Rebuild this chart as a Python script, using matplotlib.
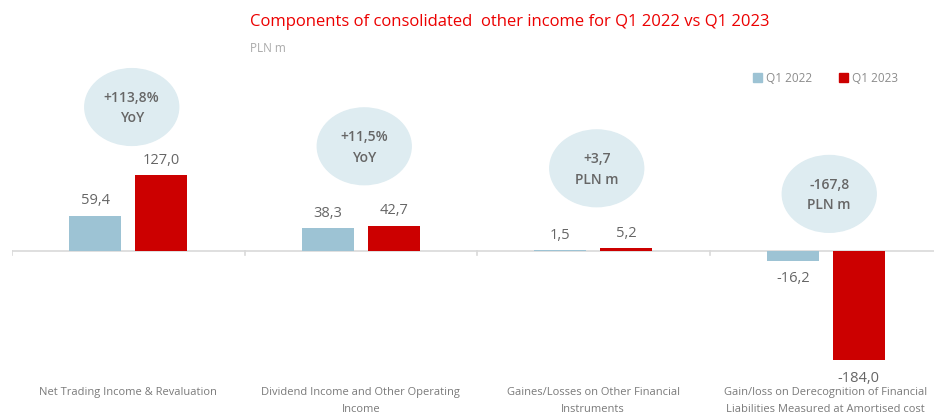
import numpy as np
import matplotlib.pyplot as plt
from matplotlib.patches import Ellipse, Patch

categories = ["Net Trading Income & Revaluation",
              "Dividend Income and Other Operating\nIncome",
              "Gaines/Losses on Other Financial\nInstruments",
              "Gain/loss on Derecognition of Financial\nLiabilities Measured at Amortised cost"]
q1_2022 = [59.4, 38.3, 1.5, -16.2]
q1_2023 = [127.0, 42.7, 5.2, -184.0]
bubble_text = ["+113,8%\nYoY", "+11,5%\nYoY", "+3,7\nPLN m", "-167,8\nPLN m"]
bubble_y = [242, 176, 139, 96]

plt.rcParams['font.family'] = ['Open Sans', 'DejaVu Sans']

fig = plt.figure(figsize=(9.34, 4.14), dpi=100)
# axes runs a bit past the right edge, like the original
ax = fig.add_axes([12/934, (414-370)/414, 930/934, 310/414])

x = np.arange(len(categories))
w = 0.224
off = 0.142
blue = '#9dc3d4'
red = '#cc0000'

ax.bar(x - off, q1_2022, w, color=blue)
ax.bar(x + off, q1_2023, w, color=red)

ax.set_xlim(-0.5, 3.5)
ax.set_ylim(-198.3, 322.7)
ax.axhline(0, color='#d9d9d9', lw=1.2, zorder=0)
for s in ax.spines.values():
    s.set_visible(False)
ax.set_yticks([])
ax.set_xticks([])

# small separator ticks on the zero line
for sx in [-0.5, 0.5, 1.5, 2.5]:
    ax.plot([sx, sx], [0, -6], color='#d9d9d9', lw=1.2, zorder=0)

def fmt(v):
    return f"{v:.1f}".replace('.', ',')

for xs, vals in [(x - off, q1_2022), (x + off, q1_2023)]:
    for xi, v in zip(xs, vals):
        if v >= 0:
            ax.annotate(fmt(v), (xi, v), xytext=(0, 6), textcoords='offset points',
                        ha='center', va='bottom', fontsize=10.5, color='#666666')
        else:
            ax.annotate(fmt(v), (xi, v), xytext=(0, -7), textcoords='offset points',
                        ha='center', va='top', fontsize=10.5, color='#666666')

# bubbles with the change
for xi, by, t in zip(x, bubble_y, bubble_text):
    ax.add_patch(Ellipse((xi + 0.015, by), 0.404, 129, color='#deecf1', zorder=1))
    ax.text(xi + 0.015, by, t, ha='center', va='center', fontsize=10,
            fontweight='semibold', color='#666666', linespacing=1.6, zorder=2)

# category labels
for xi, c in zip(x, categories):
    ax.text(xi, -0.055, c, transform=ax.get_xaxis_transform(), ha='center', va='top',
            fontsize=8, color='#7a7a7a', linespacing=1.7)

fig.text(510/934, 1 - 22/414, "Components of consolidated  other income for Q1 2022 vs Q1 2023",
         ha='center', va='center', fontsize=12, color='#ec0000')
fig.text(250/934, 1 - 48/414, "PLN m", ha='left', va='center', fontsize=8.5, color='#aaaaaa')

handles = [Patch(color=blue, label='Q1 2022'), Patch(color=red, label='Q1 2023')]
leg = fig.legend(handles=handles, loc='center left', bbox_to_anchor=(742/934, 1 - 79/414),
                 ncol=2, frameon=False, handlelength=0.8, handleheight=0.8,
                 handletextpad=0.3, columnspacing=2.3, fontsize=8.5)
for t in leg.get_texts():
    t.set_color('#8c8c8c')

fig.savefig('out.png', dpi=100)
